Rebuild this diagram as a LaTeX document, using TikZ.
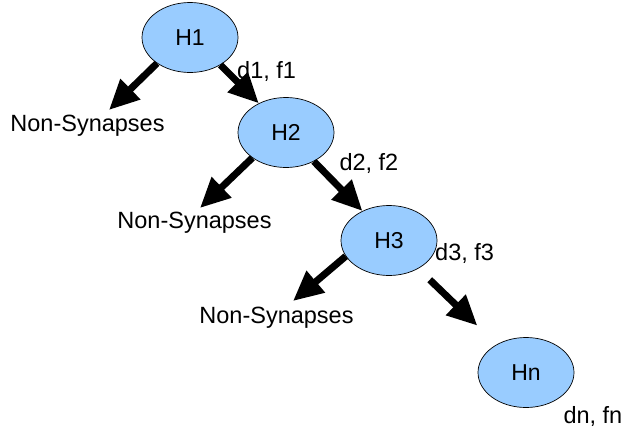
\documentclass[tikz,border=0pt]{standalone}
\usepackage{fontspec}
\setmainfont{Liberation Sans}
\usetikzlibrary{arrows.meta,shapes.geometric}
\definecolor{hostblue}{RGB}{153,204,255}
\begin{document}
\begin{tikzpicture}[x=1pt,y=-1pt,
  host/.style={fill=hostblue,shape=ellipse,draw,line width=0.7pt,minimum width=96pt,minimum height=70pt,inner sep=0pt,font=\fontsize{23}{27}\selectfont},
  lbl/.style={font=\fontsize{23.5}{27}\selectfont,inner sep=0pt,anchor=base},
  fat/.style={line width=7pt,-{Triangle[length=30pt,width=27pt]}}]
\useasboundingbox (0,0) rectangle (634,434);
\node[host](H1) at (190,37.5){H1};
\node[host](H2) at (286,132.5){H2};
\node[host](H3) at (389,240.5){H3};
\node[host](Hn) at (526,372.5){Hn};
\node[lbl](NS1) at (87.5,131.7){Non-Synapses};
\node[lbl](NS2) at (194.5,228.3){Non-Synapses};
\node[lbl](NS3) at (276.5,323.5){Non-Synapses};
\node[lbl,anchor=base west](DF1) at (237,78.3){d1, f1};
\node[lbl,anchor=base west](DF2) at (339.3,170){d2, f2};
\node[lbl,anchor=base west](DF3) at (435,260){d3, f3};
\node[lbl,anchor=base west](DFn) at (563.3,423.3){dn, fn};
\coordinate (T1) at (109,110);
\coordinate (T2) at (200,208);
\coordinate (T3) at (293,301);
\draw[fat] (H1.218) -- (T1);
\draw[fat] (H1.-42) -- (H2.133);
\draw[fat] (H2.217) -- (T2);
\draw[fat] (H2.-46) -- (H3.132);
\draw[fat] (H3.200) -- (T3);
\draw[fat,shorten <=16pt,shorten >=27pt] (H3) -- (Hn);
\end{tikzpicture}
\end{document}
